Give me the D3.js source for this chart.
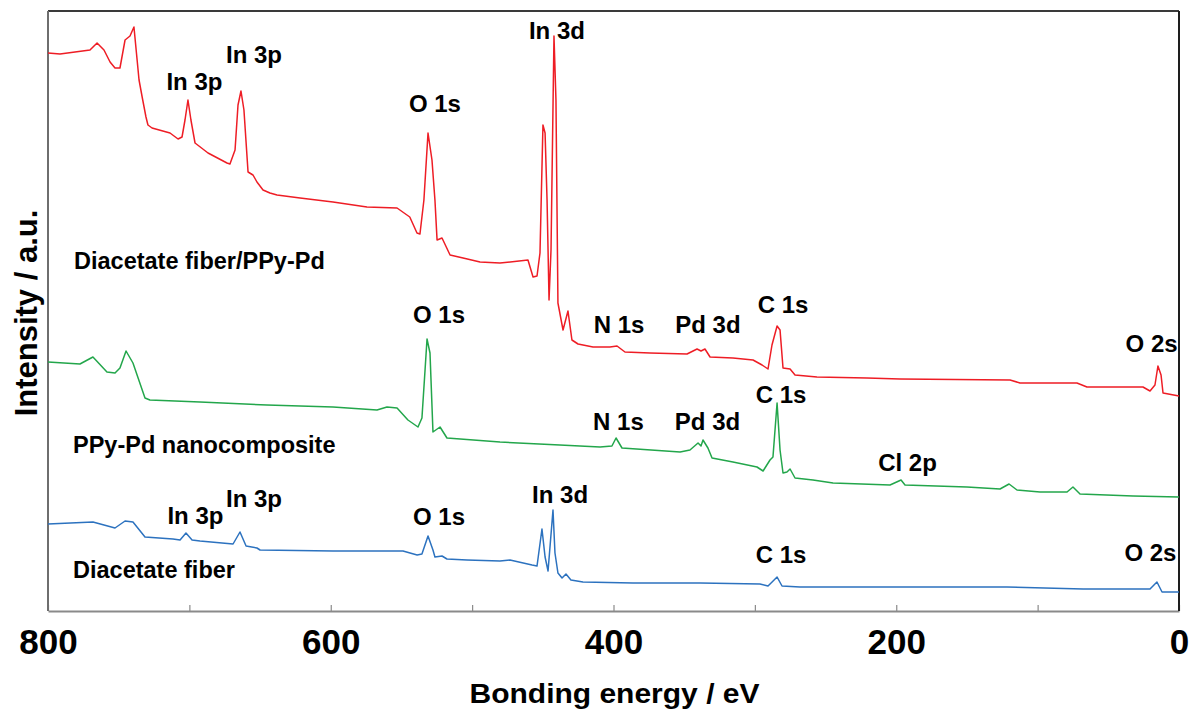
<!DOCTYPE html>
<html>
<head>
<meta charset="utf-8">
<script src="https://cdn.jsdelivr.net/npm/d3@7/dist/d3.min.js"></script>
<style>
  html, body { margin: 0; padding: 0; background: #fff; }
  svg { display: block; }
  text { font-family: Arial, "Liberation Sans", Helvetica, sans-serif; font-weight: bold; fill: #000; }
</style>
</head>
<body>
<svg id="chart" width="1193" height="713"></svg>
<script>
// ---- Data (binding energy in eV, intensity in arbitrary units) ----
const redEnergy = [800,791.5,780.9,770.3,765.3,760.4,756.1,752.6,749.1,745.5,742.0,739.2,735.6,733.4,730.7,729.3,726.4,713.7,708.0,705.2,703.1,701.0,698.9,696.0,686.8,673.4,671.3,667.7,665.6,663.5,661.4,658.5,655.0,652.2,647.9,643.0,638.0,621.7,598.4,574.4,553.1,544.1,539.0,536.9,534.1,531.2,528.4,526.3,524.8,521.3,515.6,506.4,494.4,480.3,460.5,456.9,454.1,452.0,449.9,448.4,447.0,445.6,444.2,442.1,440.7,439.3,435.7,432.2,429.4,425.1,414.5,402.5,397.5,391.9,374.2,348.0,340.9,338.1,335.3,331.7,315.5,301.3,294.9,290.7,287.9,284.3,282.2,280.1,275.1,271.6,256.1,220.7,197.3,119.5,112.5,72.2,65.1,25.5,20.5,17.0,14.9,12.7,11.3,0];
const redIntensity = [558,557,559,561,568,561,549,543,543,571,575,584,531,514,494,486,483,478,472,474,491,511,491,468,458,448,447,461,506,520,501,439,436,429,421,418,416,413,409,404,403,394,378,377,411,478,451,411,371,373,356,353,349,348,351,334,335,358,486,478,411,311,361,575,511,308,281,300,271,267,264,264,265,259,258,257,262,260,262,254,253,251,246,242,266,285,281,243,242,236,234,233,232,231,228,228,224,224,220,226,245,236,218,215];

const greenEnergy = [800,777.4,768.2,758.3,752.6,749.1,744.8,739.9,731.4,727.9,692.5,645.1,598.4,567.3,560.2,553.1,545.4,538.3,535.5,533.3,531.9,529.8,527.7,522.7,517.8,480.3,438.0,409.5,401.1,398.2,394.0,352.9,345.9,340.2,338.1,336.7,333.2,330.3,315.5,298.5,294.2,289.3,287.2,284.3,282.2,280.1,277.3,275.1,271.6,258.9,244.7,204.4,196.6,193.8,150.0,126.6,120.2,114.6,98.3,79.2,75.0,70.0,32.5,0];
const greenIntensity = [249,247,254,239,238,243,260,248,213,211,209,206,204,201,204,203,191,184,193,241,272,258,179,184,173,169,166,164,165,173,163,159,161,168,165,171,163,153,149,144,140,151,154,208,161,138,139,142,133,131,128,126,131,126,124,122,127,121,119,119,124,117,115,114];

const blueEnergy = [800,768.2,752.6,745.5,739.9,731.4,711.6,706.6,702.4,698.1,692.5,669.1,664.2,659.9,652.2,650.0,598.4,548.9,538.9,535.5,531.2,527.7,526.3,521.3,517.8,503.6,480.3,473.2,457.6,454.1,450.6,448.4,446.3,442.8,441.4,439.3,436.4,433.6,430.1,421.6,386.2,338.8,296.4,290.7,284.3,280.8,268.1,197.3,121.7,67.9,20.5,15.6,12.0,0];
const blueIntensity = [87,89,83,90,89,74,72,71,78,71,70,67,79,65,63,61,60,60,56,57,75,61,54,55,52,51,50,51,46,45,82,54,40,101,58,38,33,37,31,29,28,28,27,25,34,25,24,24,24,22,22,29,19,19];

// Peak annotations: text, energy of label centre, intensity of label baseline
const redLabels = [["In 3p",696.4,521],["In 3p",654.3,548],["O 1s",526.3,499],["In 3d",440.0,572],["N 1s",396.1,278],["Pd 3d",333.2,278],["C 1s",280.1,298],["O 2s",19.4,259]];
const greenLabels = [["O 1s",523.4,288],["N 1s",396.5,181],["Pd 3d",333.5,181],["C 1s",281.5,208],["Cl 2p",192.0,140]];
const blueLabels = [["In 3p",695.7,87],["In 3p",654.3,104],["O 1s",523.4,86],["In 3d",437.8,108],["C 1s",281.5,48],["O 2s",20.2,50]];

// Sample names: text, energy of label start, intensity of baseline
const sampleNames = ["Diacetate fiber/PPy-Pd","PPy-Pd nanocomposite","Diacetate fiber"];
const sampleNameEnergy = [781.6,782.3,782.3];
const sampleNameIntensity = [342,158,33];

const xTicks = [800,700,600,500,400,300,200,100,0];
const xTickLabels = [800,600,400,200,0];

// ---- Layout ----
const svg = d3.select("#chart");
const mLeft = 48, mRight = 1179, mTop = 11, mBottom = 611;
const x = d3.scaleLinear().domain([800, 0]).range([mLeft, mRight]);
const y = d3.scaleLinear().domain([0, 600]).range([mBottom, mTop]);

const colors = {red: "#ee1d25", green: "#23a64b", blue: "#2c72bf"};

// Axis with inward ticks
const axis = d3.axisBottom(x)
  .tickValues(xTicks)
  .tickSizeInner(-6)
  .tickSizeOuter(0)
  .tickFormat(d => xTickLabels.includes(d) ? d : "");
const gx = svg.append("g").attr("transform", `translate(0,${mBottom})`).call(axis);
gx.select(".domain").attr("stroke", "#8a8a8a").attr("stroke-width", 2);
gx.selectAll(".tick line").attr("stroke", "#8a8a8a").attr("stroke-width", 1.2);
gx.selectAll(".tick text")
  .attr("y", 43)
  .attr("dy", 0)
  .style("font-size", "35px")
  .style("font-weight", "bold")
  .style("font-family", "Arial, 'Liberation Sans', Helvetica, sans-serif")
  .attr("fill", "#000");

// Frame
svg.append("line").attr("x1", mLeft).attr("x2", mRight).attr("y1", mTop).attr("y2", mTop)
  .attr("stroke", "#3a3a3a").attr("stroke-width", 2);
svg.append("line").attr("x1", mLeft).attr("x2", mLeft).attr("y1", mTop).attr("y2", mBottom)
  .attr("stroke", "#6e6e6e").attr("stroke-width", 2);
svg.append("line").attr("x1", mRight).attr("x2", mRight).attr("y1", mTop).attr("y2", mBottom)
  .attr("stroke", "#1e1e1e").attr("stroke-width", 2);

// Spectra
const line = d3.line().x(d => x(d[0])).y(d => y(d[1]));
function drawSeries(en, inten, color) {
  svg.append("path")
    .datum(d3.zip(en, inten))
    .attr("fill", "none")
    .attr("stroke", color)
    .attr("stroke-width", 1.5)
    .attr("stroke-linejoin", "round")
    .attr("d", line);
}
drawSeries(redEnergy, redIntensity, colors.red);
drawSeries(greenEnergy, greenIntensity, colors.green);
drawSeries(blueEnergy, blueIntensity, colors.blue);

// Peak labels
[redLabels, greenLabels, blueLabels].forEach(set => {
  svg.selectAll(null).data(set).enter().append("text")
    .attr("x", d => x(d[1]))
    .attr("y", d => y(d[2]))
    .attr("text-anchor", "middle")
    .style("font-size", "24px")
    .text(d => d[0]);
});

// Sample names
svg.selectAll(null).data(sampleNames).enter().append("text")
  .attr("x", (d, i) => x(sampleNameEnergy[i]))
  .attr("y", (d, i) => y(sampleNameIntensity[i]))
  .attr("text-anchor", "start")
  .style("font-size", "23.5px")
  .text(d => d);

// Axis titles
svg.append("text")
  .attr("x", (mLeft + mRight) / 2 + 1)
  .attr("y", 703)
  .attr("text-anchor", "middle")
  .attr("textLength", 290)
  .attr("lengthAdjust", "spacingAndGlyphs")
  .style("font-size", "27px")
  .text("Bonding energy / eV");

svg.append("text")
  .attr("transform", "translate(37,313) rotate(-90)")
  .attr("text-anchor", "middle")
  .style("font-size", "31px")
  .text("Intensity / a.u.");
</script>
</body>
</html>
